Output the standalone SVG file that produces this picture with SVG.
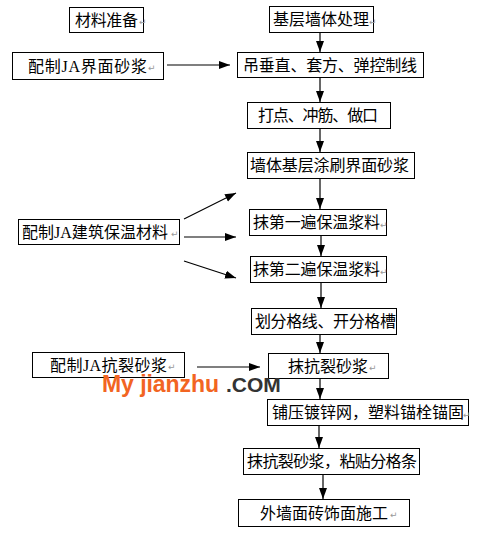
<svg xmlns="http://www.w3.org/2000/svg" width="504" height="544" viewBox="0 0 504 544">
<style>
.box{fill:#fff;stroke:#000;stroke-width:1}
.t{font-family:"Noto Sans CJK SC","Noto Sans",sans-serif;font-size:16px;fill:#000}
.lat{font-family:"Liberation Serif",serif}
.rm{font-family:"DejaVu Sans",sans-serif;font-size:9px;fill:#999}
.c{stroke:#000;stroke-width:1.2;fill:none;marker-end:url(#ah)}
</style>
<defs>
<marker id="ah" markerUnits="userSpaceOnUse" markerWidth="11" markerHeight="10" viewBox="0 0 11 10" refX="11" refY="5" orient="auto">
<path d="M0,1 L11,5 L0,9 Z" fill="#000"/>
</marker>
</defs>
<rect width="504" height="544" fill="#fff"/>
<g id="connectors">
<line class="c" x1="320" y1="32" x2="320" y2="52"/>
<line class="c" x1="320" y1="77" x2="320" y2="102"/>
<line class="c" x1="320" y1="128" x2="320" y2="152"/>
<line class="c" x1="320" y1="178" x2="320" y2="209"/>
<line class="c" x1="321" y1="235" x2="321" y2="256"/>
<line class="c" x1="321" y1="282" x2="321" y2="308"/>
<line class="c" x1="320" y1="334" x2="320" y2="353"/>
<line class="c" x1="320" y1="378" x2="320" y2="399"/>
<line class="c" x1="319" y1="425" x2="319" y2="448"/>
<line class="c" x1="323" y1="474" x2="323" y2="499"/>
<line class="c" x1="167" y1="65" x2="230" y2="65"/>
<line class="c" x1="184" y1="237" x2="236" y2="237"/>
<line class="c" x1="197" y1="367" x2="260" y2="367"/>
<line class="c" x1="184" y1="219" x2="236" y2="193"/>
<line class="c" x1="184" y1="261" x2="236" y2="278"/>
</g>
<g id="n1"><rect class="box" x="69.5" y="7.5" width="74" height="25"/><text class="t" x="75" y="25.5" textLength="63">材料准备</text><text class="rm" x="139" y="25">↵</text></g>
<g id="n2"><rect class="box" x="269.5" y="6.5" width="104" height="26"/><text class="t" x="273" y="25" textLength="96">基层墙体处理</text><text class="rm" x="369" y="25">↵</text></g>
<g id="n3"><rect class="box" x="12.5" y="52.5" width="151" height="27"/><text class="t" x="28" y="71.5" textLength="119">配制<tspan class="lat">JA</tspan>界面砂浆</text><text class="rm" x="148" y="71">↵</text></g>
<g id="n4"><rect class="box" x="237.5" y="52.5" width="186" height="25"/><text class="t" x="243" y="70.5" textLength="174">吊垂直、套方、弹控制线</text></g>
<g id="n5"><rect class="box" x="247.5" y="102.5" width="143" height="26"/><text class="t" x="258" y="121" textLength="120">打点、冲筋、做口</text></g>
<g id="n6"><rect class="box" x="247.5" y="152.5" width="167" height="26"/><text class="t" x="250" y="171" textLength="159">墙体基层涂刷界面砂浆</text></g>
<g id="n7"><rect class="box" x="249.5" y="209.5" width="137" height="26"/><text class="t" x="253" y="228" textLength="127">抹第一遍保温浆料</text><text class="rm" x="380" y="228">↵</text></g>
<g id="n8"><rect class="box" x="250.5" y="256.5" width="136" height="26"/><text class="t" x="253" y="275" textLength="127">抹第二遍保温浆料</text><text class="rm" x="380" y="275">↵</text></g>
<g id="n9"><rect class="box" x="18.5" y="219.5" width="161" height="25"/><text class="t" x="22" y="237.5" textLength="146">配制<tspan class="lat">JA</tspan>建筑保温材料</text><text class="rm" x="171" y="237">↵</text></g>
<g id="n10"><rect class="box" x="251.5" y="308.5" width="145" height="26"/><text class="t" x="255" y="327" textLength="141">划分格线、开分格槽</text></g>
<g id="n11"><rect class="box" x="32.5" y="352.5" width="152" height="25"/><text class="t" x="50" y="370.5" textLength="117">配制<tspan class="lat">JA</tspan>抗裂砂浆</text><text class="rm" x="168" y="370">↵</text></g>
<g id="n12"><rect class="box" x="268.5" y="353.5" width="120" height="25"/><text class="t" x="288" y="371.5" textLength="80">抹抗裂砂浆</text><text class="rm" x="369" y="371">↵</text></g>
<g id="n13"><rect class="box" x="267.5" y="399.5" width="201" height="26"/><text class="t" x="272" y="418" textLength="192">铺压镀锌网，塑料锚栓锚固</text><text class="rm" x="463" y="418">↵</text></g>
<g id="n14"><rect class="box" x="243.5" y="448.5" width="176" height="26"/><text class="t" x="247" y="467" textLength="170">抹抗裂砂浆，粘贴分格条</text></g>
<g id="n15"><rect class="box" x="238.5" y="499.5" width="171" height="27"/><text class="t" x="260" y="518.5" textLength="128">外墙面砖饰面施工</text><text class="rm" x="390" y="518">↵</text></g>
<g id="watermark">
<text x="102" y="392" font-family="Liberation Sans,Arial,sans-serif" font-weight="bold" font-size="23" fill="#F26522" textLength="117">My jianzhu</text>
<text x="226" y="392" font-family="Liberation Sans,Arial,sans-serif" font-weight="bold" font-size="21" fill="#333">.COM</text>
</g>
</svg>
